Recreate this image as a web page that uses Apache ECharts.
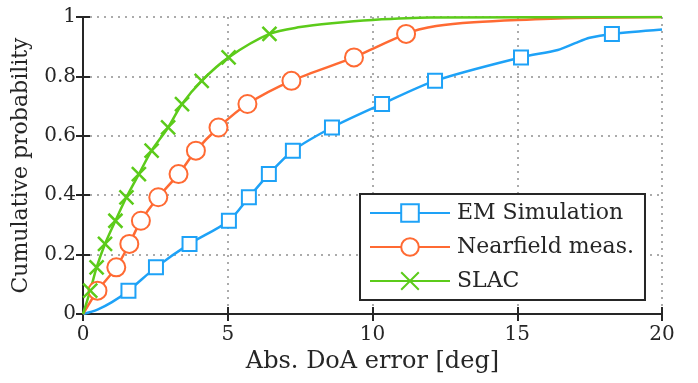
<!DOCTYPE html>
<html>
<head>
<meta charset="utf-8">
<script src="https://cdn.jsdelivr.net/npm/echarts@6/dist/echarts.min.js"></script>
<style>
  html, body { margin: 0; padding: 0; background: #fff; }
  #chart { width: 698px; height: 383px; }
</style>
</head>
<body>
<div id="chart"></div>
<script>
// line points, markers are every point listed in *Marks
const emX = [0, 0.5, 1.0, 1.57, 2.52, 3.68, 5.04, 5.73, 6.42, 7.25, 8.6, 10.33, 12.16, 15.13, 16.4, 17.0, 17.5, 18.27, 20];
const emY = [0, 0.015, 0.04, 0.0785, 0.157, 0.236, 0.314, 0.393, 0.471, 0.55, 0.628, 0.707, 0.785, 0.864, 0.889, 0.912, 0.93, 0.943, 0.958];
const emMarks = [3, 4, 5, 6, 7, 8, 9, 10, 11, 12, 13, 17];

const nfX = [0, 0.5, 1.15, 1.6, 2.0, 2.6, 3.3, 3.9, 4.68, 5.68, 7.2, 9.36, 10.0, 11.16, 11.6, 12.2, 13.5, 15, 17, 20];
const nfY = [0, 0.0785, 0.157, 0.236, 0.314, 0.393, 0.471, 0.55, 0.628, 0.707, 0.785, 0.864, 0.893, 0.943, 0.958, 0.97, 0.982, 0.99, 0.997, 1.0];
const nfMarks = [1, 2, 3, 4, 5, 6, 7, 8, 9, 10, 11, 13];

const slX = [0, 0.25, 0.47, 0.76, 1.12, 1.5, 1.93, 2.37, 2.94, 3.42, 4.1, 5.03, 6.44, 7.5, 8.6, 10, 12, 20];
const slY = [0, 0.0785, 0.157, 0.236, 0.314, 0.393, 0.471, 0.55, 0.628, 0.707, 0.785, 0.864, 0.943, 0.966, 0.979, 0.99, 0.998, 1.0];
const slMarks = [1, 2, 3, 4, 5, 6, 7, 8, 9, 10, 11, 12];

const xTicks = [0, 5, 10, 15, 20];
const yTicks = [0, 0.2, 0.4, 0.6, 0.8, 1];

const font = 'DejaVu Serif';
const ink = '#262626';

function buildData(xs, ys, marks) {
  return xs.map((x, i) => {
    const item = {value: [x, ys[i]]};
    if (marks.indexOf(i) < 0) item.symbol = 'none';
    return item;
  });
}

function lineSeries(name, color, symbol, size, data) {
  return {
    name: name,
    type: 'line',
    smooth: 0.3,
    symbol: symbol,
    symbolSize: size,
    showAllSymbol: true,
    lineStyle: {color: color, width: 2.5},
    itemStyle: {color: color, borderColor: color, borderWidth: 2.5},
    emphasis: {disabled: true},
    data: data,
    z: 3
  };
}

const axisLineStyle = {show: true, lineStyle: {color: ink, width: 2}};
const tickStyle = {show: true, inside: true, length: 7, lineStyle: {color: ink, width: 2}};
const splitStyle = {show: true, lineStyle: {color: '#ababab', width: 2, type: [2, 5]}};
const labelStyle = {fontFamily: font, fontSize: 20, color: ink};

const chart = echarts.init(document.getElementById('chart'), null, {renderer: 'canvas'});
chart.setOption({
  animation: false,
  backgroundColor: '#fff',
  grid: {left: 83, right: 36, top: 17, bottom: 69, containLabel: false},
  xAxis: [
    {
      type: 'value', min: xTicks[0], max: xTicks[xTicks.length - 1], interval: 5,
      name: 'Abs. DoA error [deg]', nameLocation: 'middle', nameGap: 31,
      nameTextStyle: {fontFamily: font, fontSize: 24, color: ink},
      axisLine: axisLineStyle, axisTick: tickStyle, splitLine: splitStyle,
      axisLabel: Object.assign({margin: 11}, labelStyle)
    },
    {
      type: 'value', position: 'top', min: 0, max: 20, interval: 5,
      axisLine: axisLineStyle, axisTick: tickStyle, splitLine: {show: false},
      axisLabel: {show: false}
    }
  ],
  yAxis: [
    {
      type: 'value', min: yTicks[0], max: yTicks[yTicks.length - 1], interval: 0.2,
      name: 'Cumulative probability', nameLocation: 'middle', nameGap: 51,
      nameTextStyle: {fontFamily: font, fontSize: 22, color: ink},
      axisLine: axisLineStyle, axisTick: tickStyle, splitLine: splitStyle,
      axisLabel: Object.assign({margin: 7}, labelStyle)
    },
    {
      type: 'value', position: 'right', min: 0, max: 1, interval: 0.2,
      axisLine: axisLineStyle, axisTick: tickStyle, splitLine: {show: false},
      axisLabel: {show: false}
    }
  ],
  legend: {
    orient: 'vertical',
    left: 360, top: 194,
    padding: [8, 11, 8, 9],
    itemWidth: 80, itemHeight: 22, itemGap: 12,
    backgroundColor: '#fff',
    borderColor: ink, borderWidth: 2,
    textStyle: {fontFamily: font, fontSize: 22, color: ink, padding: [0, 0, 0, 2]},
    data: ['EM Simulation', 'Nearfield meas.', 'SLAC']
  },
  series: [
    lineSeries('EM Simulation', '#1ea2f7', 'emptyRect', 14, buildData(emX, emY, emMarks)),
    lineSeries('Nearfield meas.', '#ff6a33', 'emptyCircle', 18, buildData(nfX, nfY, nfMarks)),
    lineSeries('SLAC', '#5ccb1a', 'path://M0,0L10,10M10,0L0,10', 14, buildData(slX, slY, slMarks))
  ]
});
</script>
</body>
</html>
